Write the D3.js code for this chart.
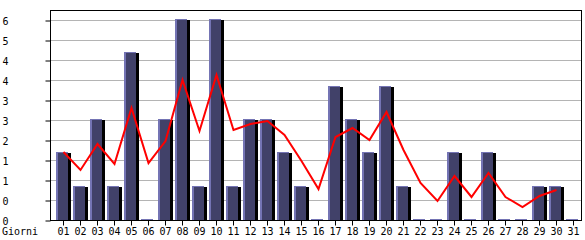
<!DOCTYPE html>
<html>
<head>
<meta charset="utf-8">
<script src="https://cdn.jsdelivr.net/npm/d3@7"></script>
<style>
  body { margin: 0; background: #fff; }
  text { font-family: "DejaVu Sans Mono", monospace; font-size: 10px; fill: #000; }
</style>
</head>
<body>
<div id="chart"></div>
<script>
var svgWidth = 585;
var svgHeight = 240;

var margin = { top: 10, right: 3, bottom: 20, left: 50 };

// data
var days = ["01","02","03","04","05","06","07","08","09","10","11","12","13","14","15","16",
            "17","18","19","20","21","22","23","24","25","26","27","28","29","30","31"];
var visits = [2,1,3,1,5,0,3,6,1,6,1,3,3,2,1,0,4,3,2,4,1,0,0,2,0,2,0,0,1,1,0];
var trend = [2.04,1.5,2.28,1.68,3.36,1.71,2.37,4.2,2.67,4.35,2.7,2.88,2.97,2.55,1.77,0.93,
             2.49,2.76,2.4,3.24,2.1,1.11,0.57,1.32,0.69,1.41,0.69,0.39,0.72,0.9];
var yTickLabels = ["0","0","1","1","2","3","3","4","4","5","6"];

var svg = d3.select("#chart")
    .append("svg")
    .attr("width", svgWidth)
    .attr("height", svgHeight);

var plotLeft = margin.left;
var plotRight = svgWidth - margin.right;
var plotTop = margin.top;
var plotBottom = svgHeight - margin.bottom;

var x = d3.scaleBand()
    .domain(days)
    .range([plotLeft + 5, plotRight])
    .padding(0);

var y = d3.scaleLinear()
    .domain([0, 6.3])
    .range([plotBottom, plotTop]);

var yTicks = d3.range(yTickLabels.length).map(function(k) { return k * 0.6; });

// gridlines
svg.append("g")
    .selectAll("line")
    .data(yTicks.slice(1))
    .enter()
    .append("line")
    .attr("x1", plotLeft)
    .attr("x2", plotRight)
    .attr("y1", d => Math.round(y(d)) + 0.5)
    .attr("y2", d => Math.round(y(d)) + 0.5)
    .attr("stroke", "#b4b4b4")
    .attr("stroke-width", 1);

// bars: shadow, light face, dark fill
var bars = svg.append("g")
    .selectAll("g")
    .data(visits)
    .enter()
    .append("g");

bars.append("rect")
    .attr("x", (d, i) => x(days[i]) + 13)
    .attr("y", d => Math.round(y(d)))
    .attr("width", 3)
    .attr("height", d => plotBottom - Math.round(y(d)))
    .attr("fill", "#000");

bars.append("rect")
    .attr("x", (d, i) => x(days[i]) + 1)
    .attr("y", d => Math.round(y(d)) - 1)
    .attr("width", 12)
    .attr("height", d => plotBottom - Math.round(y(d)) + 1)
    .attr("fill", "#7474b4");

bars.append("rect")
    .attr("x", (d, i) => x(days[i]) + 3)
    .attr("y", d => Math.round(y(d)))
    .attr("width", 10)
    .attr("height", d => Math.max(0, plotBottom - Math.round(y(d))))
    .attr("fill", "#414169");

// red trend line
var line = d3.line()
    .x((d, i) => x(days[i]) + x.bandwidth() / 2)
    .y(d => y(d));

svg.append("path")
    .datum(trend)
    .attr("d", line)
    .attr("fill", "none")
    .attr("stroke", "#ff0000")
    .attr("stroke-width", 2);

// frame
svg.append("rect")
    .attr("x", plotLeft + 0.5)
    .attr("y", plotTop + 0.5)
    .attr("width", plotRight - plotLeft - 1)
    .attr("height", plotBottom - plotTop)
    .attr("fill", "none")
    .attr("stroke", "#000")
    .attr("stroke-width", 1);

// left axis
var leftAxis = d3.axisLeft(y)
    .tickValues(yTicks)
    .tickSize(5)
    .tickFormat((d, i) => yTickLabels[i]);

var gy = svg.append("g")
    .attr("transform", "translate(" + (plotLeft + 0.5) + ",0.5)")
    .call(leftAxis);
gy.select(".domain").remove();
gy.selectAll("line").attr("stroke", "#000");
gy.selectAll("text")
    .attr("x", -plotLeft + 2)
    .attr("dy", "0.35em")
    .attr("text-anchor", "start")
    .style("font-family", "DejaVu Sans Mono")
    .style("font-size", "10px");

// bottom axis
var bottomAxis = d3.axisBottom(x).tickSize(5).tickSizeOuter(0);

var gx = svg.append("g")
    .attr("transform", "translate(0," + (plotBottom + 0.5) + ")")
    .call(bottomAxis);
gx.select(".domain").remove();
gx.selectAll("line").attr("stroke", "#000");
gx.selectAll("text")
    .attr("y", 7)
    .style("font-family", "DejaVu Sans Mono")
    .style("font-size", "10px");

svg.append("text")
    .attr("x", 2)
    .attr("y", plotBottom + 15)
    .text("Giorni");
</script>
</body>
</html>
